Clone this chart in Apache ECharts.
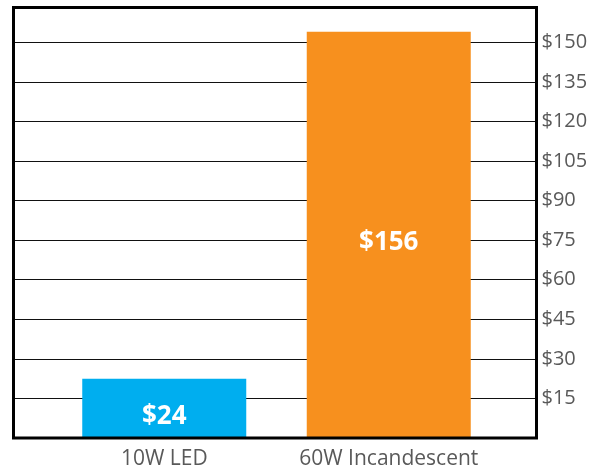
<!DOCTYPE html>
<html><head><meta charset="utf-8">
<script src="https://cdn.jsdelivr.net/npm/echarts@6/dist/echarts.min.js"></script>
<style>html,body{margin:0;padding:0;background:#fff}#c{width:601px;height:472px}</style>
</head><body><div id="c"></div>
<script>
var categories = ['10W LED', '60W Incandescent'];
var costs = [22.5, 154];
var costLabels = ['$24', '$156'];
var barColors = ['#00AEEF', '#F7901E'];
var yTicks = [15, 30, 45, 60, 75, 90, 105, 120, 135, 150];
var yMax = 163.2;
var yStep = 15;

var chart = echarts.init(document.getElementById('c'), null, {renderer: 'canvas'});
var font = '"Open Sans", "Noto Sans", sans-serif';
chart.setOption({
  animation: false,
  backgroundColor: '#fff',
  grid: [
    {left: 13.5, right: 64.5, top: 7.5, bottom: 34, show: true, z: 10, borderColor: '#000', borderWidth: 3, backgroundColor: 'transparent'},
    {left: 52, right: 100, top: 7.5, bottom: 34}
  ],
  xAxis: [
    {gridIndex: 0, type: 'category', data: categories, show: false},
    {gridIndex: 1, type: 'category', data: categories,
     axisLine: {show: false},
     axisTick: {show: false},
     axisLabel: {color: '#595959', fontSize: 21, fontFamily: font, margin: 11, interval: 0, hideOverlap: false}}
  ],
  yAxis: [
    {gridIndex: 0, type: 'value', position: 'right', min: 0, max: yMax, interval: yStep,
     axisLine: {show: false}, axisTick: {show: false},
     splitLine: {show: true, lineStyle: {color: '#111', width: 1}},
     axisLabel: {color: '#595959', fontSize: 20, fontFamily: font, margin: 5,
       formatter: function (v) { return yTicks.indexOf(v) >= 0 ? '$' + v : ''; }}},
    {gridIndex: 1, type: 'value', min: 0, max: yMax, show: false}
  ],
  series: [{
    type: 'bar', xAxisIndex: 1, yAxisIndex: 1, barWidth: 164,
    data: costs.map(function (v, i) { return {value: v, itemStyle: {color: barColors[i]}}; }),
    label: {show: true, position: 'inside', offset: [0, 8], color: '#fff', fontWeight: 'bold',
      fontSize: 26, fontFamily: font,
      formatter: function (p) { return costLabels[p.dataIndex]; }}
  }]
});
</script></body></html>
